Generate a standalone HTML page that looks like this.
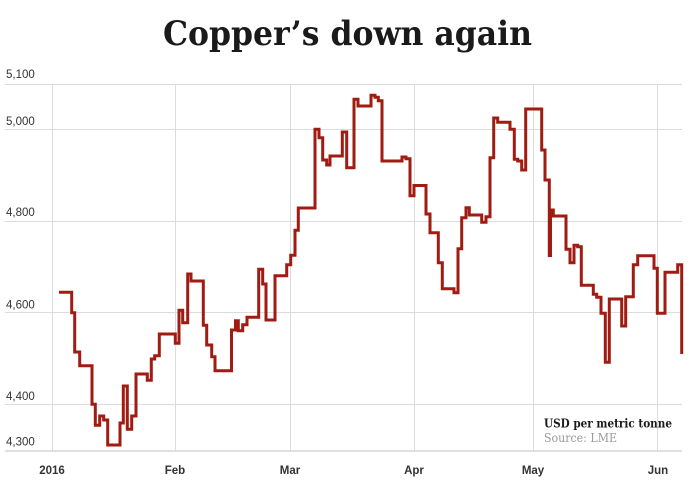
<!DOCTYPE html>
<html>
<head>
<meta charset="utf-8">
<style>
  html, body { margin: 0; padding: 0; background: #ffffff; }
  body { width: 700px; height: 499px; overflow: hidden; }
  svg { display: block; }
</style>
</head>
<body>
<svg width="700" height="499" viewBox="0 0 700 499" xmlns="http://www.w3.org/2000/svg">
  <rect x="0" y="0" width="700" height="499" fill="#ffffff"/>

  <!-- Title -->
  <text x="163" y="45" font-family="'DejaVu Serif', 'Liberation Serif', serif" font-weight="bold" font-size="34" fill="#1a1a1a" textLength="369" lengthAdjust="spacingAndGlyphs">Copper’s down again</text>

  <!-- Vertical gridlines -->
  <g stroke="#dcdcdc" stroke-width="1">
    <line x1="52.5" y1="84" x2="52.5" y2="451"/>
    <line x1="175.5" y1="84" x2="175.5" y2="451"/>
    <line x1="290.5" y1="84" x2="290.5" y2="451"/>
    <line x1="414.5" y1="84" x2="414.5" y2="451"/>
    <line x1="533.5" y1="84" x2="533.5" y2="451"/>
    <line x1="657.5" y1="84" x2="657.5" y2="451"/>
  </g>

  <!-- Horizontal gridlines -->
  <g stroke="#dcdcdc" stroke-width="1">
    <line x1="5" y1="84.5" x2="682" y2="84.5"/>
    <line x1="5" y1="129.5" x2="682" y2="129.5"/>
    <line x1="5" y1="221.5" x2="682" y2="221.5"/>
    <line x1="5" y1="312.5" x2="682" y2="312.5"/>
    <line x1="5" y1="404.5" x2="682" y2="404.5"/>
  </g>
  <line x1="5" y1="451" x2="682" y2="451" stroke="#d6d6d6" stroke-width="1.5"/>

  <!-- Y labels -->
  <g font-family="'Liberation Sans', Arial, sans-serif" font-size="11.5" fill="#333333">
    <text x="6" y="78">5,100</text>
    <text x="6" y="125">5,000</text>
    <text x="6" y="216">4,800</text>
    <text x="6" y="308.5">4,600</text>
    <text x="6" y="400">4,400</text>
    <text x="6" y="445.5">4,300</text>
  </g>

  <!-- X labels -->
  <g font-family="'Liberation Sans', Arial, sans-serif" font-size="11.5" font-weight="bold" fill="#333333" text-anchor="middle">
    <text x="52" y="474">2016</text>
    <text x="175" y="474">Feb</text>
    <text x="290" y="474">Mar</text>
    <text x="414" y="474">Apr</text>
    <text x="533" y="474">May</text>
    <text x="658" y="474">Jun</text>
  </g>

  <!-- Series -->
  <path fill="none" stroke="#a01b12" stroke-width="3" stroke-linejoin="miter" stroke-linecap="butt"
    d="M59,292.3 H71.7 V312.7 H74.7 V352 H79.7 V365.7 H92 V404.3 H95.3 V425.3 H99.7 V416 H103.7 V420 H107.7 V445 H120 V423 H123.3 V386 H127.3 V429.3 H131.7 V416 H136 V374 H147.3 V380.3 H151.3 V359 H154.7 V355.7 H159.3 V334 H175.3 V343.3 H179 V310.3 H182.7 V322.7 H187.7 V274 H191 V281 H203.3 V325.3 H206.7 V345 H211.7 V356.7 H215 V370.7 H231.5 V330 H235.5 V320.7 H238.3 V330.7 H242.7 V324.7 H247 V317.3 H258.7 V269.3 H262.7 V284 H266 V320 H275 V275.7 H286.7 V264.7 H290.7 V255.3 H295 V230.3 H298.3 V208 H315 V129.3 H319 V137.7 H322.7 V160 H326.7 V165 H330 V156 H342.3 V132 H346.7 V167.7 H354 V99.3 H358 V106 H371 V95.3 H375 V97.3 H378.3 V100.7 H382 V161 H402 V157 H406 V158.7 H410 V195.7 H414 V185.5 H426 V214 H430 V232.7 H438.3 V262.7 H442.3 V288.7 H454 V292.7 H458 V248.7 H461.7 V217.7 H466 V207.7 H469.3 V215 H481.7 V222.3 H486 V216.7 H490 V157.7 H493.7 V118 H497.7 V122.3 H510 V129.3 H514.3 V159.3 H517.7 V161 H521.7 V170 H525.7 V109 H541.7 V150 H545 V180 H549.3 V255.5 H550.5 V210 H553.3 V216 H566 V249.3 H570 V262.7 H574 V245.3 H577.7 V246.7 H581.3 V285.3 H593.3 V294.3 H596.7 V297.3 H601 V313.3 H605.3 V362.3 H609.3 V299 H621.7 V326 H625.7 V296.7 H633.3 V264.7 H637.7 V255.7 H654 V268.3 H657.3 V313.3 H665 V272.3 H677.7 V264.7 H681.7 V354"/>

  <!-- Legend / source -->
  <text x="544" y="427.5" font-family="'DejaVu Serif', 'Liberation Serif', serif" font-weight="bold" font-size="12.5" fill="#1a1a1a" textLength="128" lengthAdjust="spacingAndGlyphs">USD per metric tonne</text>
  <text x="544" y="442" font-family="'DejaVu Serif', 'Liberation Serif', serif" font-size="12" fill="#9a9a9a" textLength="73" lengthAdjust="spacingAndGlyphs">Source: LME</text>
</svg>
</body>
</html>
